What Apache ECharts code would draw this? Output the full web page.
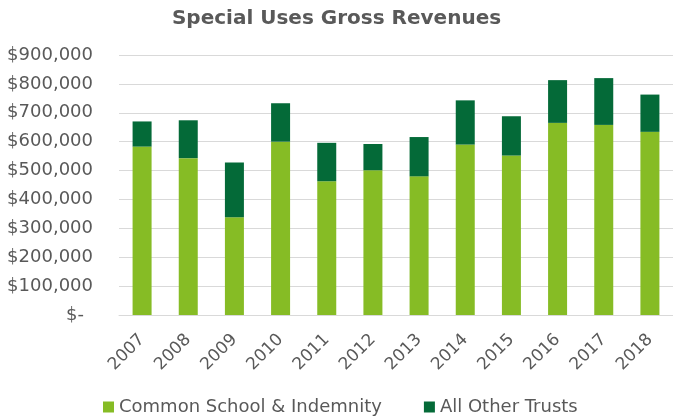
<!DOCTYPE html>
<html>
<head>
<meta charset="utf-8">
<script src="https://cdn.jsdelivr.net/npm/echarts@6/dist/echarts.min.js"></script>
<style>
  html, body { margin: 0; padding: 0; background: #ffffff; }
  #chart { width: 673px; height: 419px; }
</style>
</head>
<body>
<div id="chart"></div>
<script>
// Fiscal years on the category axis
const years = ['2007', '2008', '2009', '2010', '2011', '2012', '2013', '2014', '2015', '2016', '2017', '2018'];

// Gross revenues by trust group (USD)
const commonSchool = [583000, 543000, 338000, 600000, 463000, 501000, 480000, 590000, 552000, 665000, 658000, 634000];
const allOtherTrusts = [87000, 131000, 190000, 133000, 133000, 91000, 136000, 153000, 136000, 148000, 162000, 129000];

// Value axis tick settings
const yMax = 900000;
const yStep = 100000;

const textColor = '#595959';
const fontFamily = 'DejaVu Sans, Verdana, sans-serif';

function money(v) {
  if (v === 0) return '{dash|$-}';
  return '$' + v.toLocaleString('en-US');
}

const chart = echarts.init(document.getElementById('chart'), null, { renderer: 'canvas' });

chart.setOption({
  animation: false,
  backgroundColor: '#ffffff',
  title: {
    text: 'Special Uses Gross Revenues',
    left: 'center',
    top: 4,
    textStyle: {
      fontFamily: fontFamily,
      fontSize: 20,
      fontWeight: 'bold',
      color: textColor
    }
  },
  legend: {
    top: 398,
    left: 103,
    padding: 0,
    itemWidth: 11,
    itemHeight: 11,
    itemGap: 42,
    icon: 'rect',
    textStyle: {
      fontFamily: fontFamily,
      fontSize: 18,
      color: textColor
    },
    data: ['Common School & Indemnity', 'All Other Trusts']
  },
  grid: {
    left: 119,
    right: -3,
    top: 55,
    bottom: 104,
    containLabel: false
  },
  xAxis: {
    type: 'category',
    data: years,
    axisLine: { show: true, lineStyle: { color: '#d9d9d9', width: 1 } },
    axisTick: { show: false },
    axisLabel: {
      rotate: 45,
      margin: 22,
      fontFamily: fontFamily,
      fontSize: 17,
      color: textColor
    }
  },
  yAxis: {
    type: 'value',
    min: 0,
    max: yMax,
    interval: yStep,
    axisLine: { show: false },
    axisTick: { show: false },
    splitLine: { lineStyle: { color: '#d9d9d9', width: 1 } },
    axisLabel: {
      margin: 26,
      fontFamily: fontFamily,
      fontSize: 18,
      color: textColor,
      formatter: money,
      rich: {
        dash: {
          fontFamily: fontFamily,
          fontSize: 18,
          color: textColor,
          padding: [0, 9, 0, 0]
        }
      }
    }
  },
  series: [
    {
      name: 'Common School & Indemnity',
      type: 'bar',
      stack: 'total',
      barWidth: 19,
      itemStyle: { color: '#86bc25' },
      data: commonSchool
    },
    {
      name: 'All Other Trusts',
      type: 'bar',
      stack: 'total',
      barWidth: 19,
      itemStyle: { color: '#046a38' },
      data: allOtherTrusts
    }
  ]
});
</script>
</body>
</html>
